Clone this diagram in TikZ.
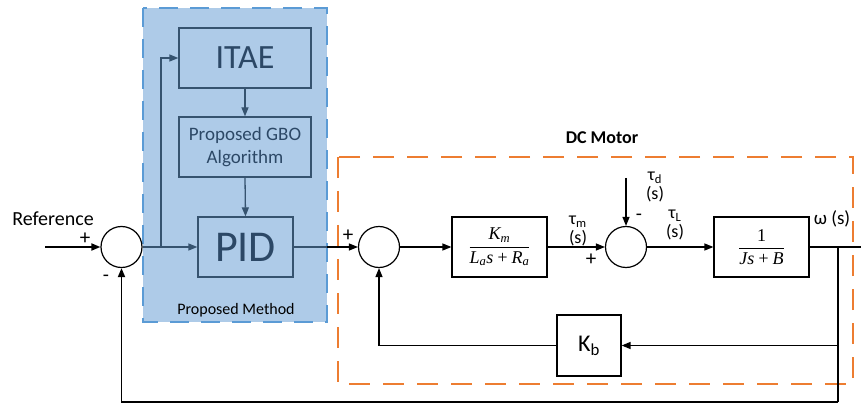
\documentclass[tikz,border=0pt]{standalone}
\usepackage{amsmath}
\usepackage{fontspec}
\setmainfont{Carlito}
\newfontfamily\tms{Liberation Serif}
\usetikzlibrary{arrows.meta}
\definecolor{bfill}{HTML}{AECBE8}
\definecolor{bdash}{HTML}{5B9BD5}
\definecolor{dkb}{HTML}{36536F}
\definecolor{txtb}{HTML}{2C4866}
\definecolor{orng}{HTML}{ED7D31}
\newcommand{\tmi}[1]{\text{\tms\itshape #1}}
\tikzset{
  fs/.style={font=\fontsize{#1}{#1}\selectfont},
  lbl/.style={inner sep=0pt},
  tip/.style={-{Triangle[length=9pt,width=7pt]}},
  inbox/.style={draw=dkb,line width=1.3pt,minimum width=132pt,minimum height=60pt,inner sep=0pt,text=txtb},
  blk/.style={draw=black,line width=1.2pt,inner sep=0pt},
  sumc/.style={circle,draw=black,line width=1.2pt,minimum size=41pt,inner sep=0pt},
  ln/.style={line width=1.3pt},
}
\begin{document}
\begin{tikzpicture}[x=1pt,y=-1pt]
\useasboundingbox (0,0) rectangle (861,403);
% blue region
\fill[bfill] (143,8) rectangle (327,322);
\draw[bdash,line width=2.6pt,dash pattern=on 19pt off 12pt] (143,8) rectangle (327,322);
% orange region
\draw[orng,line width=2.6pt,dash pattern=on 21pt off 13pt] (338,157) rectangle (853,384);

\node[inbox,fs=34] (itae) at (245,58) {ITAE};
\node[inbox,fs=19,align=center] (gbo) at (245,147) {Proposed GBO\\[4pt]Algorithm};
\node[inbox,fs=44,minimum width=95pt] (pid) at (245.5,247) {PID};
\node[fs=16,lbl] (pm) at (236,310) {Proposed Method};

\node[sumc] (s1) at (121.5,247) {};
\node[sumc] (s2) at (379,247) {};
\node[sumc] (s3) at (626,247) {};

\node[blk,minimum width=95pt,minimum height=60pt,fs=18] (gm) at (499.5,247) {$\dfrac{\tmi{K\textsubscript{m}}}{\tmi{L\textsubscript{a}s\,+\,R\textsubscript{a}}}$};
\node[blk,minimum width=95pt,minimum height=60pt,fs=18] (gl) at (761.5,247) {$\dfrac{\text{\tms 1}}{\tmi{Js\,+\,B}}$};
\node[blk,minimum width=64pt,minimum height=61pt,fs=24] (kb) at (589,345.5) {K\textsubscript{b}};

\node[fs=20,lbl] (ref) at (53,219) {Reference};
\node[fs=21,lbl] (p1) at (85,239) {+};
\node[fs=20,lbl] (m1) at (106,278) {-};
\node[fs=21,lbl] (p2) at (348,236) {+};
\node[fs=21,lbl] (p3) at (591,260) {+};
\node[fs=20,lbl] (m3) at (639,217) {-};
\node[font=\bfseries\fontsize{18}{18}\selectfont,lbl] (dc) at (602,138) {DC Motor};
\node[fs=18,align=center,lbl] (tm) at (578,231) {τ\textsubscript{m}\\[1pt](s)};
\node[fs=18,align=center,lbl] (td) at (655,187) {τ\textsubscript{d}\\[1pt](s)};
\node[fs=18,align=center,lbl] (tl) at (675,225) {τ\textsubscript{L}\\[1pt](s)};
\node[fs=19,lbl] (om) at (832,219) {ω (s)};

\coordinate (in) at (45,247);
\coordinate (br1) at (161,247);
\coordinate (bout) at (327,247);
\coordinate (dtop) at (626,178);
\coordinate (br2) at (838,247);
\coordinate (kbr) at (838,345.5);
\coordinate (bot) at (838,402);
\coordinate (out) at (861,247);

% input
\draw[line width=1.8pt,tip] (in) -- (s1.west);
% inside blue
\draw[ln,dkb,tip] (s1.east) -- (pid.west);
\draw[ln,dkb,tip] (br1) |- (itae.west);
\draw[ln,dkb,tip] (itae.south) -- (gbo.north);
\draw[ln,dkb,tip] (gbo.south) -- (pid.north);
\draw[ln,dkb] (pid.east) -- (bout);
\draw[ln,tip] (bout) -- (s2.west);
% motor
\draw[ln,tip] (s2.east) -- (gm.west);
\draw[ln,tip] (gm.east) -- (s3.west);
\draw[ln,tip] (dtop) -- (s3.north);
\draw[ln,tip] (s3.east) -- (gl.west);
\draw[ln] (gl.east) -- (out);
\draw[ln] (br2) -- (kbr);
\draw[ln,tip] (kbr) -- (kb.east);
\draw[ln,tip] (kb.west) -| (s2.south);
\draw[line width=1.8pt] (br2) -- (bot);
\draw[line width=1.8pt,tip] (bot) -| (s1.south);
\end{tikzpicture}
\end{document}
